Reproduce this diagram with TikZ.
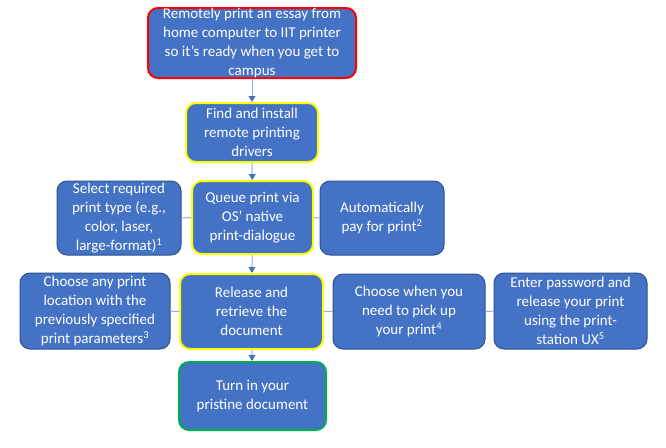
\documentclass[tikz,border=0pt]{standalone}
\usepackage{fontspec}
\setmainfont{Carlito}
\usetikzlibrary{arrows.meta}
\definecolor{boxblue}{HTML}{4472C4}
\definecolor{boxedge}{HTML}{2F528F}
\definecolor{linkblue}{HTML}{8FAADC}
\definecolor{markred}{HTML}{FF0000}
\definecolor{markyellow}{HTML}{FFFF00}
\definecolor{markgreen}{HTML}{00B050}

\begin{document}
\begin{tikzpicture}[x=1pt, y=-1pt,
	every node/.style = {draw = boxedge, line width = 1pt, fill = boxblue, text = white,
		rounded corners = 10pt, align = center, inner sep = 0pt,
		font = \fontsize{15}{19}\selectfont},
	redbox/.style = {draw = markred, line width = 2pt},
	yellowbox/.style = {draw = markyellow, line width = 2pt},
	greenbox/.style = {draw = markgreen, line width = 2pt},
	link/.style = {draw = linkblue, line width = 1pt},
	flow/.style = {link, -{Triangle[width = 7pt, length = 6pt, color = boxblue]}}
	]
	\useasboundingbox (0,0) rectangle (666,447);
	% main column
	\node[redbox, minimum width = 208pt, minimum height = 70pt] (goal) at (252,43)
		{Remotely print an essay from\\home computer to IIT printer\\so it’s ready when you get to\\campus};
	\node[yellowbox, minimum width = 132pt, minimum height = 59pt] (drivers) at (252,132.5)
		{Find and install\\remote printing\\drivers};
	\node[yellowbox, minimum width = 121pt, minimum height = 73pt] (queue) at (252.5,217.5)
		{Queue print via\\OS’ native\\print-dialogue};
	\node[yellowbox, minimum width = 143pt, minimum height = 75pt] (release) at (251.5,311.5)
		{Release and\\retrieve the\\document};
	\node[greenbox, minimum width = 147pt, minimum height = 68pt] (turnin) at (252.5,396)
		{Turn in your\\pristine document};
	% side steps
	\node[minimum width = 124pt, minimum height = 74pt] (printtype) at (119,218)
		{Select required\\print type (e.g.,\\color, laser,\\large-format)\textsuperscript{1}};
	\node[minimum width = 124pt, minimum height = 74pt] (pay) at (382,218)
		{Automatically\\pay for print\textsuperscript{2}};
	\node[minimum width = 150pt, minimum height = 76pt] (location) at (95,311)
		{Choose any print\\location with the\\previously specified\\print parameters\textsuperscript{3}};
	\node[minimum width = 152pt, minimum height = 75pt] (pickup) at (409,311.5)
		{Choose when you\\need to pick up\\your print\textsuperscript{4}};
	\node[minimum width = 153pt, minimum height = 76pt] (password) at (570.5,311)
		{Enter password and\\release your print\\using the print-\\station UX\textsuperscript{5}};

	\draw[flow] (goal) -- (drivers);
	\draw[flow] (drivers) -- (queue);
	\draw[flow] (queue) -- (release);
	\draw[flow] (release) -- (turnin);
	\draw[link] (printtype) -- (queue);
	\draw[link] (queue) -- (pay);
	\draw[link] (location) -- (release);
	\draw[link] (release) -- (pickup);
	\draw[link] (pickup) -- (password);
\end{tikzpicture}
\end{document}
